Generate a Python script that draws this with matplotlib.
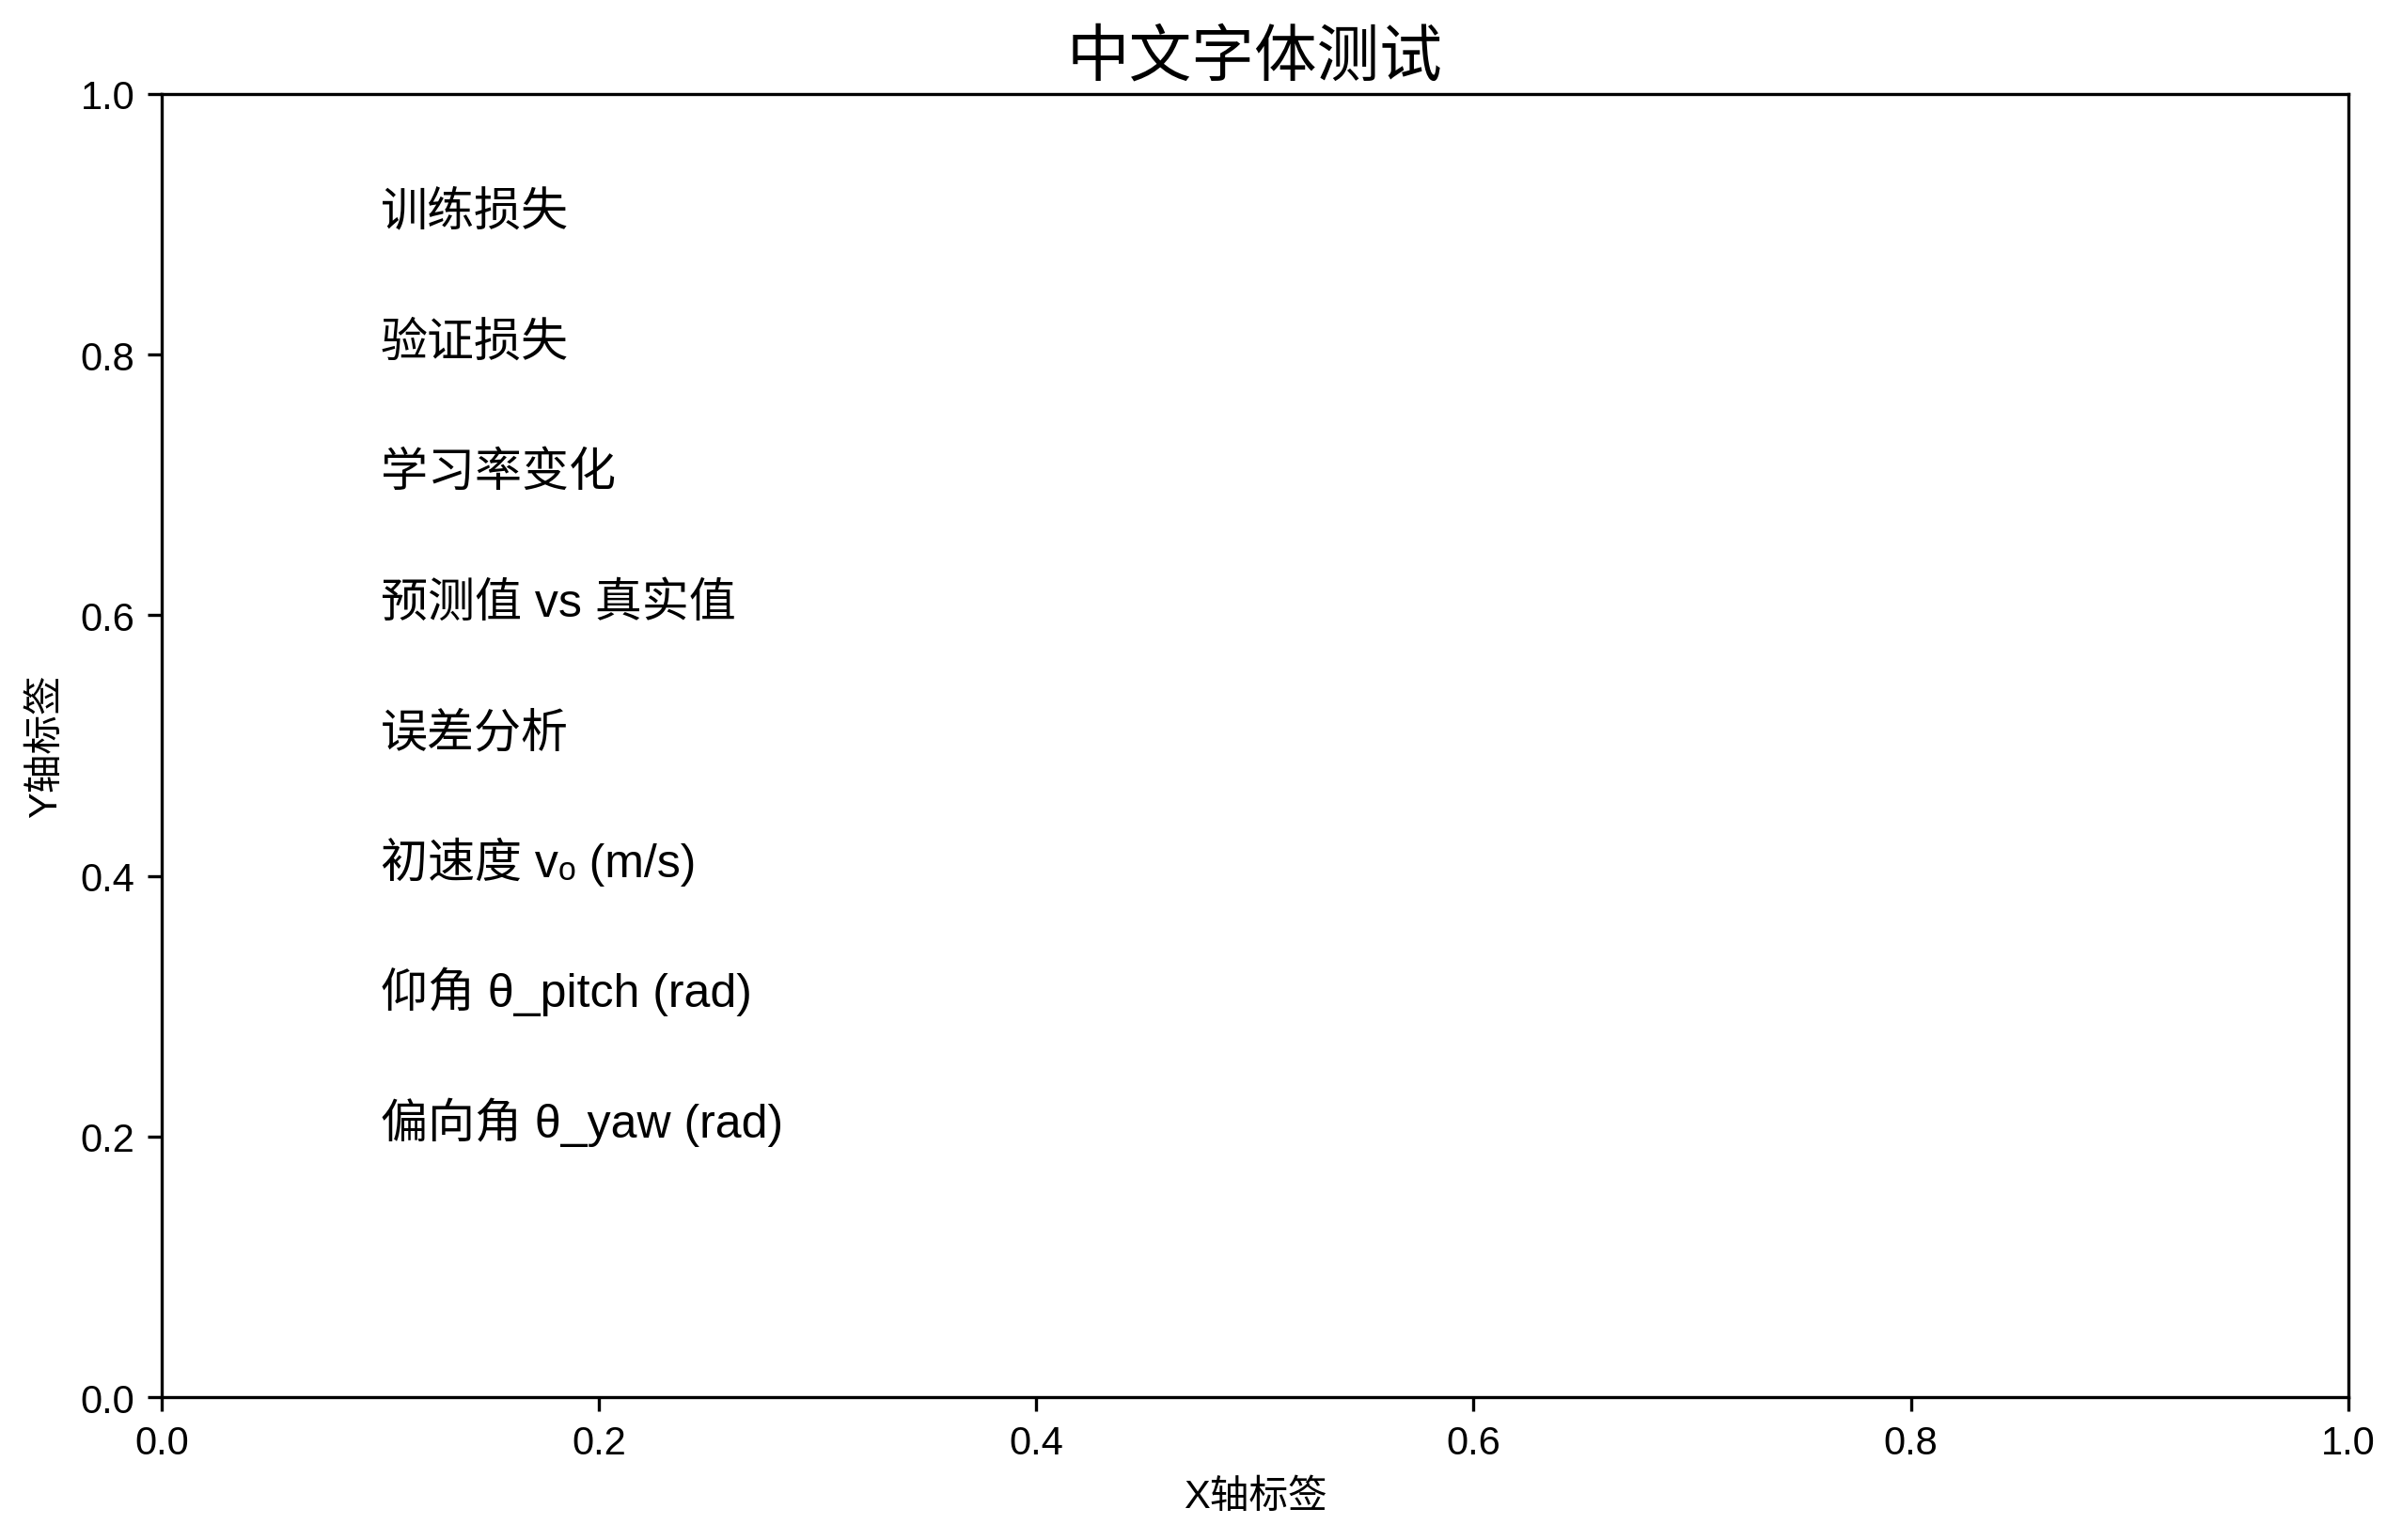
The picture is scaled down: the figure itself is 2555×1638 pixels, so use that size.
import numpy as np
import matplotlib.pyplot as plt

plt.rcParams['font.family'] = ['Liberation Sans', 'Noto Sans CJK SC', 'DejaVu Sans']
plt.rcParams['axes.unicode_minus'] = False

# 要显示的测试文字
labels = ['训练损失', '验证损失', '学习率变化', '预测值 vs 真实值',
          '误差分析', '初速度 vₒ (m/s)', '仰角 θ_pitch (rad)', '偏向角 θ_yaw (rad)']
ypos = [0.9, 0.8, 0.7, 0.6, 0.5, 0.4, 0.3, 0.2]
xpos = 0.1

fig = plt.figure(figsize=(2555 / 300, 1639 / 300), dpi=300)
ax = fig.add_axes([0.0675, 0.0927, 0.91, 0.8457])

for lab, y in zip(labels, ypos):
    ax.text(xpos, y, lab, fontsize=12)

ax.set_title('中文字体测试', fontsize=16, pad=5)
ax.set_xlabel('X轴标签')
ax.set_ylabel('Y轴标签')

fig.savefig('out.png', dpi=300)
